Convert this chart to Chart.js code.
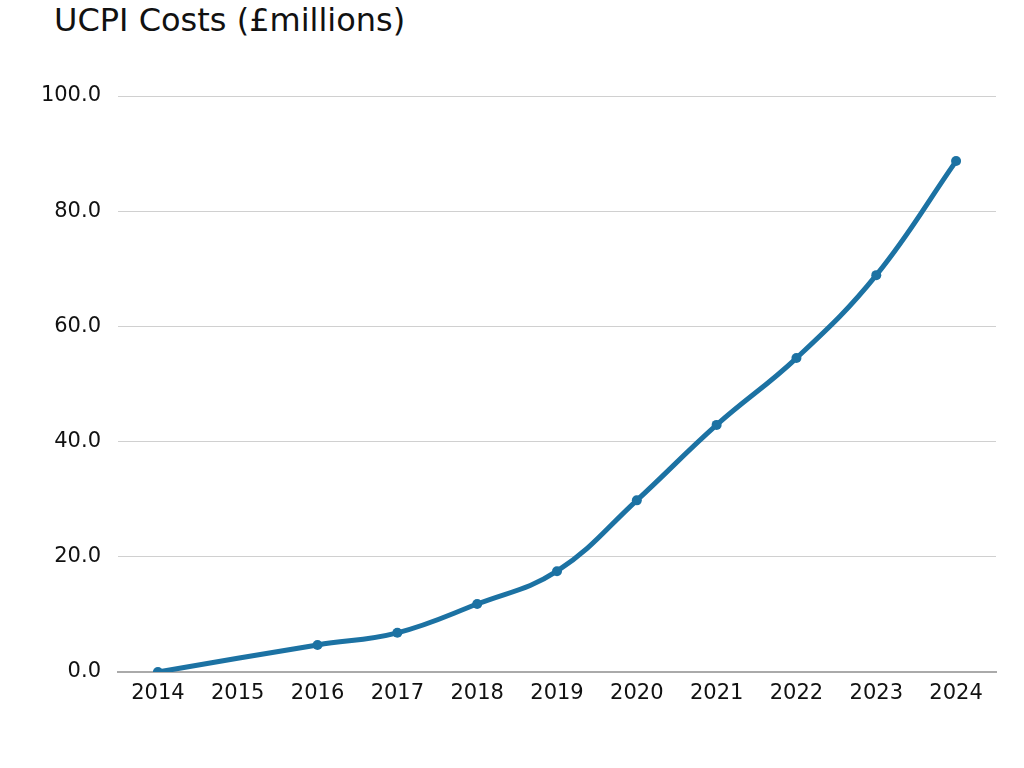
<!DOCTYPE html>
<html>
<head>
<meta charset="utf-8">
<script src="https://cdn.jsdelivr.net/npm/chart.js@4"></script>
<style>
html,body{margin:0;padding:0;background:#fff;}
#wrap{position:relative;width:1024px;height:768px;}
#title{position:absolute;left:54px;top:0px;font-family:"DejaVu Sans",sans-serif;font-size:32px;color:#111;line-height:40px;white-space:nowrap;}
canvas{position:absolute;left:0;top:0;}
</style>
</head>
<body>
<div id="wrap">
<div id="title">UCPI Costs (£millions)</div>
<canvas id="c" width="1024" height="768"></canvas>
</div>
<script>
const years = ["2014","2015","2016","2017","2018","2019","2020","2021","2022","2023","2024"];
const costs = [0, null, 4.7, 6.8, 11.8, 17.5, 29.8, 42.9, 54.5, 68.9, 88.7];
const yTicks = [0, 20, 40, 60, 80, 100];

Chart.defaults.font.family = '"DejaVu Sans", sans-serif';
Chart.defaults.color = '#111';

new Chart(document.getElementById('c'), {
  type: 'line',
  data: {
    labels: years,
    datasets: [{
      data: costs,
      borderColor: '#1c72a3',
      backgroundColor: '#1c72a3',
      borderWidth: 5,
      pointRadius: 5,
      pointHoverRadius: 5,
      pointBorderWidth: 0,
      tension: 0.4,
      spanGaps: true,
      fill: false
    }]
  },
  options: {
    responsive: false,
    animation: false,
    layout: { padding: { left: 0, right: 28, top: 96, bottom: 56 } },
    plugins: { legend: { display: false }, title: { display: false }, tooltip: { enabled: false } },
    scales: {
      x: {
        offset: true,
        afterFit: (axis) => { axis.height = 40; },
        grid: { display: false, drawTicks: false },
        border: { display: true, color: '#aaaaaa', width: 2 },
        ticks: { font: { size: 21 }, padding: 9, maxRotation: 0 }
      },
      y: {
        min: yTicks[0],
        max: yTicks[yTicks.length - 1],
        afterBuildTicks: (axis) => { axis.ticks = yTicks.map(v => ({ value: v })); },
        afterFit: (axis) => { axis.width = 118; },
        grid: { color: '#d0d0d0', lineWidth: 1, drawTicks: false },
        border: { display: false },
        ticks: { font: { size: 21 }, padding: 17, callback: v => Number(v).toFixed(1) }
      }
    }
  }
});
</script>
</body>
</html>
